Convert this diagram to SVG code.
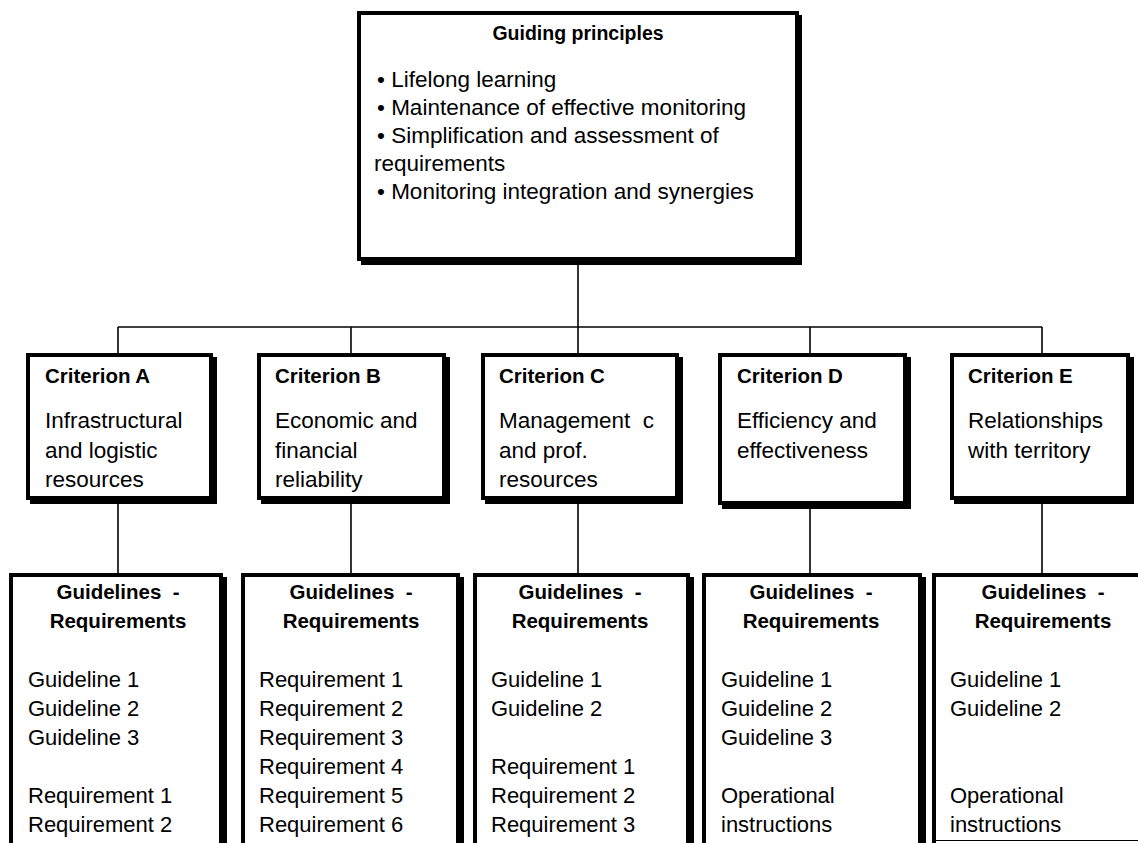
<svg xmlns="http://www.w3.org/2000/svg" width="1138" height="843" viewBox="0 0 1138 843">
<style>
text{font-family:"Liberation Sans",Arial,sans-serif;fill:#000}
.h{font-size:19.5px;font-weight:bold}
.t{font-size:20.5px;font-weight:bold}
.b{font-size:22.5px}
.g{font-size:22px}
.box{fill:#fff;stroke:#000;stroke-width:4}
.sh{fill:#000}
.c{stroke:#000;stroke-width:1.6;fill:none}
</style>
<rect width="1138" height="843" fill="#fff"/>
<g id="connectors">
<line class="c" x1="578" y1="263" x2="578" y2="355"/>
<line class="c" x1="118" y1="327" x2="1042" y2="327"/>
<line class="c" x1="118" y1="327" x2="118" y2="355"/>
<line class="c" x1="351" y1="327" x2="351" y2="355"/>
<line class="c" x1="810" y1="327" x2="810" y2="355"/>
<line class="c" x1="1042" y1="327" x2="1042" y2="355"/>
<line class="c" x1="118" y1="502" x2="118" y2="575"/>
<line class="c" x1="351" y1="502" x2="351" y2="575"/>
<line class="c" x1="578" y1="502" x2="578" y2="575"/>
<line class="c" x1="810" y1="507" x2="810" y2="575"/>
<line class="c" x1="1042" y1="502" x2="1042" y2="575"/>
</g>
<g id="principles">
<rect class="sh" x="361" y="15" width="441" height="250"/>
<rect class="box" x="359" y="13" width="438" height="246"/>
<text class="h" x="578" y="40" text-anchor="middle">Guiding principles</text>
<text class="b" x="377" y="87">• Lifelong learning</text>
<text class="b" x="377" y="115">• Maintenance of effective monitoring</text>
<text class="b" x="377" y="143">• Simplification and assessment of</text>
<text class="b" x="374" y="171">requirements</text>
<text class="b" x="377" y="199">• Monitoring integration and synergies</text>
</g>
<g id="criterionA">
<rect class="sh" x="30" y="357" width="187" height="147"/>
<rect class="box" x="28" y="355" width="183" height="143"/>
<text class="t" x="45" y="383">Criterion A</text>
<text class="b" x="45" y="428">Infrastructural</text>
<text class="b" x="45" y="457.5">and logistic</text>
<text class="b" x="45" y="487">resources</text>
</g>
<g id="criterionB">
<rect class="sh" x="261" y="357" width="189" height="147"/>
<rect class="box" x="259" y="355" width="185" height="143"/>
<text class="t" x="275" y="383">Criterion B</text>
<text class="b" x="275" y="428">Economic and</text>
<text class="b" x="275" y="457.5">financial</text>
<text class="b" x="275" y="487">reliability</text>
</g>
<g id="criterionC">
<rect class="sh" x="485" y="357" width="198" height="147"/>
<rect class="box" x="483" y="355" width="194" height="143"/>
<text class="t" x="499" y="383">Criterion C</text>
<text class="b" x="499" y="428" xml:space="preserve">Management  c</text>
<text class="b" x="499" y="457.5">and prof.</text>
<text class="b" x="499" y="487">resources</text>
</g>
<g id="criterionD">
<rect class="sh" x="722" y="357" width="189" height="152"/>
<rect class="box" x="720" y="355" width="185" height="148"/>
<text class="t" x="737" y="383">Criterion D</text>
<text class="b" x="737" y="428">Efficiency and</text>
<text class="b" x="737" y="457.5">effectiveness</text>
</g>
<g id="criterionE">
<rect class="sh" x="954" y="357" width="180" height="147"/>
<rect class="box" x="952" y="355" width="176" height="143"/>
<text class="t" x="968" y="383">Criterion E</text>
<text class="b" x="968" y="428">Relationships</text>
<text class="b" x="968" y="457.5">with territory</text>
</g>
<g id="guidelinesA">
<rect class="sh" x="13" y="577" width="214" height="300"/>
<rect class="box" x="11" y="575" width="210" height="300"/>
<text class="t" x="118" y="599" text-anchor="middle" xml:space="preserve">Guidelines  -</text>
<text class="t" x="118" y="628" text-anchor="middle">Requirements</text>
<text class="g" x="28" y="687">Guideline 1</text>
<text class="g" x="28" y="716">Guideline 2</text>
<text class="g" x="28" y="745">Guideline 3</text>
<text class="g" x="28" y="803">Requirement 1</text>
<text class="g" x="28" y="832">Requirement 2</text>
</g>
<g id="guidelinesB">
<rect class="sh" x="245" y="577" width="219" height="300"/>
<rect class="box" x="243" y="575" width="215" height="300"/>
<text class="t" x="351" y="599" text-anchor="middle" xml:space="preserve">Guidelines  -</text>
<text class="t" x="351" y="628" text-anchor="middle">Requirements</text>
<text class="g" x="259" y="687">Requirement 1</text>
<text class="g" x="259" y="716">Requirement 2</text>
<text class="g" x="259" y="745">Requirement 3</text>
<text class="g" x="259" y="774">Requirement 4</text>
<text class="g" x="259" y="803">Requirement 5</text>
<text class="g" x="259" y="832">Requirement 6</text>
</g>
<g id="guidelinesC">
<rect class="sh" x="477" y="577" width="217" height="300"/>
<rect class="box" x="475" y="575" width="213" height="300"/>
<text class="t" x="580" y="599" text-anchor="middle" xml:space="preserve">Guidelines  -</text>
<text class="t" x="580" y="628" text-anchor="middle">Requirements</text>
<text class="g" x="491" y="687">Guideline 1</text>
<text class="g" x="491" y="716">Guideline 2</text>
<text class="g" x="491" y="774">Requirement 1</text>
<text class="g" x="491" y="803">Requirement 2</text>
<text class="g" x="491" y="832">Requirement 3</text>
</g>
<g id="guidelinesD">
<rect class="sh" x="706" y="577" width="220" height="300"/>
<rect class="box" x="704" y="575" width="216" height="300"/>
<text class="t" x="811" y="599" text-anchor="middle" xml:space="preserve">Guidelines  -</text>
<text class="t" x="811" y="628" text-anchor="middle">Requirements</text>
<text class="g" x="721" y="687">Guideline 1</text>
<text class="g" x="721" y="716">Guideline 2</text>
<text class="g" x="721" y="745">Guideline 3</text>
<text class="g" x="721" y="803">Operational</text>
<text class="g" x="721" y="832">instructions</text>
</g>
<g id="guidelinesE">
<rect class="box" x="934" y="575" width="224" height="300"/>
<text class="t" x="1043" y="599" text-anchor="middle" xml:space="preserve">Guidelines  -</text>
<text class="t" x="1043" y="628" text-anchor="middle">Requirements</text>
<text class="g" x="950" y="687">Guideline 1</text>
<text class="g" x="950" y="716">Guideline 2</text>
<text class="g" x="950" y="803">Operational</text>
<text class="g" x="950" y="832">instructions</text>
<line x1="936" y1="840.5" x2="1138" y2="840.5" stroke="#000" stroke-width="1"/>
</g>
</svg>
